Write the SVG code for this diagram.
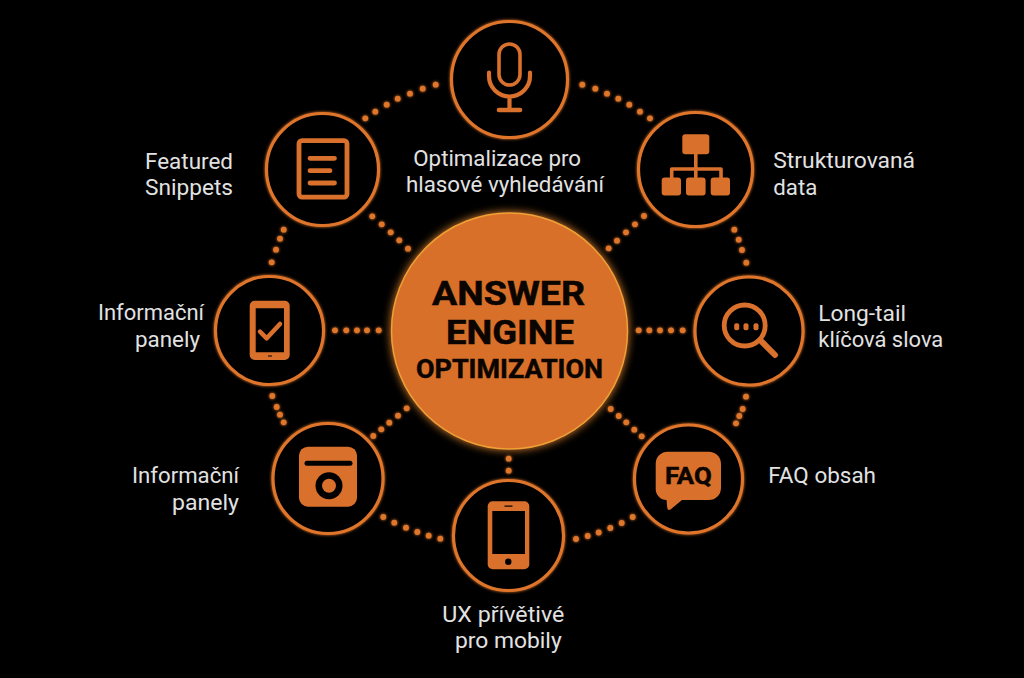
<svg xmlns="http://www.w3.org/2000/svg" width="1024" height="678" viewBox="0 0 1024 678">
<defs>
<filter id="glow" x="-30%" y="-30%" width="160%" height="160%"><feGaussianBlur in="SourceGraphic" stdDeviation="4" result="b"/><feMerge><feMergeNode in="b"/><feMergeNode in="SourceGraphic"/></feMerge></filter>
<filter id="softglow" x="-30%" y="-30%" width="160%" height="160%"><feGaussianBlur in="SourceGraphic" stdDeviation="1.8" result="b"/><feMerge><feMergeNode in="b"/><feMergeNode in="SourceGraphic"/></feMerge></filter>
</defs>
<style>
text{font-family:Roboto,"Noto Sans","Liberation Sans",sans-serif}
.ring{fill:#000;stroke:#df7529;stroke-width:3.2}
.f{fill:#d9702c}
.s{fill:none;stroke:#d9702c;stroke-linecap:round;stroke-linejoin:round}
.k{fill:#000}
.l{fill:#e2e2e2;font-size:21.5px}
.t{fill:#0a0500;font-weight:700;stroke:#0a0500;stroke-width:.5}
#connectors circle{fill:#e0762b;r:2.9px}
</style>
<rect width="1024" height="678" fill="#000"/>
<g id="connectors" filter="url(#softglow)">
<circle cx="435.7" cy="84.7"/><circle cx="422.7" cy="88.7"/><circle cx="410" cy="93.7"/><circle cx="397.7" cy="98.7"/><circle cx="386.7" cy="104.7"/><circle cx="375.3" cy="111.7"/><circle cx="365.3" cy="118.3"/>
<circle cx="582.3" cy="84.7"/><circle cx="595.3" cy="88.7"/><circle cx="607" cy="93.7"/><circle cx="618.3" cy="98.7"/><circle cx="629.3" cy="104.7"/><circle cx="640" cy="111.7"/><circle cx="650" cy="118.3"/>
<circle cx="372.3" cy="216.3"/><circle cx="381.7" cy="224.3"/><circle cx="390.7" cy="232.3"/><circle cx="399.3" cy="240.3"/><circle cx="408" cy="248.7"/>
<circle cx="644" cy="216"/><circle cx="635" cy="224.3"/><circle cx="626" cy="232.3"/><circle cx="617" cy="240.7"/><circle cx="608.7" cy="248.3"/>
<circle cx="283.7" cy="229.7"/><circle cx="280" cy="238.7"/><circle cx="276" cy="249.7"/><circle cx="271.7" cy="262.3"/>
<circle cx="734.3" cy="229.7"/><circle cx="738.7" cy="239.7"/><circle cx="742" cy="250"/><circle cx="746.3" cy="262.7"/>
<circle cx="638.7" cy="330.3"/><circle cx="649.3" cy="330.3"/><circle cx="660" cy="330.3"/><circle cx="671" cy="330.3"/><circle cx="682.7" cy="330.3"/>
<circle cx="335" cy="330.3"/><circle cx="346.3" cy="330.3"/><circle cx="357" cy="330.3"/><circle cx="367" cy="330.3"/><circle cx="378.7" cy="330.3"/>
<circle cx="746" cy="396.7"/><circle cx="742.7" cy="409"/><circle cx="739.3" cy="416"/><circle cx="736" cy="423.3"/>
<circle cx="610.7" cy="409"/><circle cx="618.7" cy="416"/><circle cx="626.3" cy="422.3"/><circle cx="634.3" cy="429.7"/><circle cx="641.7" cy="436.3"/>
<circle cx="632.7" cy="517"/><circle cx="621.7" cy="523"/><circle cx="610.3" cy="528"/><circle cx="598.7" cy="532.5"/><circle cx="587.7" cy="536"/><circle cx="576" cy="539"/>
<circle cx="508.7" cy="458.7"/><circle cx="508.7" cy="470.7"/>
<circle cx="373.3" cy="436"/><circle cx="381.3" cy="429.3"/><circle cx="389.3" cy="422.7"/><circle cx="398" cy="415.7"/><circle cx="406.7" cy="408.3"/>
<circle cx="383.3" cy="517"/><circle cx="394.3" cy="522.7"/><circle cx="406" cy="527.7"/><circle cx="417.3" cy="532"/><circle cx="428.7" cy="535.7"/><circle cx="440.3" cy="538.7"/>
<circle cx="272.3" cy="396"/><circle cx="276.7" cy="407"/><circle cx="280" cy="414.7"/><circle cx="283.7" cy="422.3"/>
</g>
<g id="center">
<circle cx="509.5" cy="331" r="118" fill="#d9702c" stroke="#f0a035" stroke-width="1.5" filter="url(#glow)"/>
<text class="t" x="432" y="305" font-size="33" textLength="153" lengthAdjust="spacingAndGlyphs">ANSWER</text>
<text class="t" x="446" y="344" font-size="33" textLength="128" lengthAdjust="spacingAndGlyphs">ENGINE</text>
<text class="t" x="416" y="378" font-size="26" textLength="187" lengthAdjust="spacingAndGlyphs">OPTIMIZATION</text>
</g>
<g id="node-voice">
<circle class="ring" cx="509.5" cy="79.5" r="58" filter="url(#softglow)"/>
<rect class="s" x="499" y="44" width="21" height="41" rx="10.5" stroke-width="3.6"/>
<path class="s" stroke-width="4.2" d="M489 72.5V76a20.5 20.5 0 0 0 41 0V72.5M509.5 97V110"/>
<path class="s" stroke-width="4.6" d="M499 110H520"/>
<text class="l" x="413.3" y="166" textLength="167.7" lengthAdjust="spacingAndGlyphs">Optimalizace pro</text>
<text class="l" x="406" y="192" textLength="198" lengthAdjust="spacingAndGlyphs">hlasové vyhledávání</text>
</g>
<g id="node-snippets">
<circle class="ring" cx="322.5" cy="169.5" r="56" filter="url(#softglow)"/>
<rect class="s" x="299" y="140.6" width="48" height="56.5" rx="3" stroke-width="4.8"/>
<path class="s" stroke-width="4.8" d="M310 158.3H334.5M310 170.7H330M310 183H334.5"/>
<text class="l" x="145" y="169" textLength="88" lengthAdjust="spacingAndGlyphs">Featured</text>
<text class="l" x="145" y="195" textLength="88" lengthAdjust="spacingAndGlyphs">Snippets</text>
</g>
<g id="node-structured">
<circle class="ring" cx="695.5" cy="169.5" r="57" filter="url(#softglow)"/>
<path class="s" stroke-width="3.6" d="M695.8 154V177M671.7 178V169H721V178"/>
<rect class="f" x="682.3" y="134.3" width="27" height="20" rx="3"/>
<rect class="f" x="661.7" y="177.5" width="19.3" height="18" rx="3"/>
<rect class="f" x="686" y="177.5" width="19.6" height="18" rx="3"/>
<rect class="f" x="710.7" y="177.5" width="19.3" height="18" rx="3"/>
<text class="l" x="773.3" y="168.3" textLength="141.7" lengthAdjust="spacingAndGlyphs">Strukturovaná</text>
<text class="l" x="773.3" y="195" textLength="44" lengthAdjust="spacingAndGlyphs">data</text>
</g>
<g id="node-longtail">
<circle class="ring" cx="749" cy="331" r="54" filter="url(#softglow)"/>
<circle class="s" cx="744.7" cy="325.5" r="20.5" stroke-width="4.8"/>
<path class="s" stroke-width="6" d="M761.7 341.7L775 355"/>
<rect class="f" x="734.2" y="323.3" width="5" height="7" rx="2"/><rect class="f" x="743.5" y="323.3" width="5" height="7" rx="2"/><rect class="f" x="753.5" y="323.3" width="5" height="7" rx="2"/>
<text class="l" x="818.3" y="320.7" textLength="87.7" lengthAdjust="spacingAndGlyphs">Long-tail</text>
<text class="l" x="818.3" y="346.7" textLength="125" lengthAdjust="spacingAndGlyphs">klíčová slova</text>
</g>
<g id="node-faq">
<circle class="ring" cx="688.5" cy="479" r="54" filter="url(#softglow)"/>
<path class="f" d="M668 451.7H709a12 12 0 0 1 12 12V488a12 12 0 0 1-12 12H682L670.5 509.5Q667.5 511 667.2 507.5L666.5 500A11 11 0 0 1 655.7 489V463.7A12 12 0 0 1 668 451.7Z"/>
<text class="t" x="665" y="484.3" font-size="24" textLength="46.7" lengthAdjust="spacingAndGlyphs">FAQ</text>
<text class="l" x="768.3" y="482.7" textLength="107.7" lengthAdjust="spacingAndGlyphs">FAQ obsah</text>
</g>
<g id="node-mobile">
<circle class="ring" cx="508.5" cy="535.5" r="55" filter="url(#softglow)"/>
<rect class="f" x="487.7" y="501.3" width="41.6" height="68" rx="5"/>
<rect class="k" x="492.3" y="511" width="32.7" height="43"/>
<circle class="k" cx="508.3" cy="561.7" r="3.2"/>
<rect class="k" x="504.5" y="505.5" width="8" height="1.2"/>
<text class="l" x="442.3" y="621.7" textLength="122" lengthAdjust="spacingAndGlyphs">UX přívětivé</text>
<text class="l" x="455" y="648" textLength="106.7" lengthAdjust="spacingAndGlyphs">pro mobily</text>
</g>
<g id="node-camera">
<circle class="ring" cx="328" cy="478.5" r="55" filter="url(#softglow)"/>
<rect class="f" x="299" y="446.7" width="58" height="60" rx="9"/>
<path d="M307 463.3H350" stroke="#000" stroke-width="5" stroke-linecap="round"/>
<circle class="k" cx="329" cy="485.7" r="13.5"/>
<circle class="f" cx="329" cy="485.7" r="7"/>
<text class="l" x="132" y="483" textLength="107" lengthAdjust="spacingAndGlyphs">Informační</text>
<text class="l" x="172" y="510" textLength="67" lengthAdjust="spacingAndGlyphs">panely</text>
</g>
<g id="node-panels">
<circle class="ring" cx="269.5" cy="330.5" r="54" filter="url(#softglow)"/>
<path class="f" fill-rule="evenodd" d="M254.7 300.7H284.7a5 5 0 0 1 5 5V355a5 5 0 0 1-5 5H254.7a5 5 0 0 1-5-5V305.7a5 5 0 0 1 5-5ZM255.7 308.3V352.3H284V308.3Z"/>
<path class="s" stroke-width="4.5" d="M260 331.7L266.7 338.3L280 324"/>
<rect class="k" x="268" y="355.5" width="4" height="1"/>
<text class="l" x="98" y="320" textLength="106" lengthAdjust="spacingAndGlyphs">Informační</text>
<text class="l" x="135" y="347" textLength="65" lengthAdjust="spacingAndGlyphs">panely</text>
</g>
</svg>
